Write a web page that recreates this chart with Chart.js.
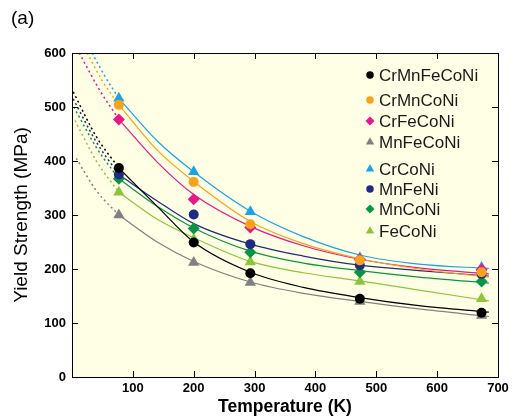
<!DOCTYPE html>
<html>
<head>
<meta charset="utf-8">
<script src="https://cdn.jsdelivr.net/npm/chart.js@4.4.1/dist/chart.umd.min.js"></script>
<style>
  html, body { margin: 0; padding: 0; background: #fff; }
  #wrap { width: 515px; height: 418px; position: relative; }
</style>
</head>
<body>
<div id="wrap"><canvas id="myChart" width="515" height="418"></canvas></div>
<script>
// alloys, in legend order
const alloys = ['CrMnFeCoNi', 'CrMnCoNi', 'CrFeCoNi', 'MnFeCoNi', 'CrCoNi', 'MnFeNi', 'MnCoNi', 'FeCoNi'];

// measured yield strength (MPa) at these temperatures (K)
const tempK = [77, 200, 293, 473, 673];
const ysCrMnFeCoNi = [387, 249, 192, 145, 119];
const ysCrMnCoNi   = [504, 361, 283, 216, 194];
const ysCrFeCoNi   = [477, 329, 277, 218, 199];
const ysMnFeCoNi   = [300, 212, 175, 140, 114];
const ysCrCoNi     = [516, 380, 306, 221, 203];
const ysMnFeNi     = [375, 301, 246, 207, 191];
const ysMnCoNi     = [367, 275, 231, 194, 177];
const ysFeCoNi     = [342, 255, 213, 177, 145];

// fitted curves (solid)
const fitT = [77, 140, 200, 293, 380, 473, 570, 685];
const fitCrMnFeCoNi = [387, 316, 250, 194, 166, 147, 132, 120];
const fitCrMnCoNi   = [504, 420, 362, 288, 247, 219, 200, 185];
const fitCrFeCoNi   = [477, 398, 338, 279, 243, 218, 202, 191];
const fitMnFeCoNi   = [300, 250, 214, 176, 155, 140, 126, 112];
const fitCrCoNi     = [516, 437, 380, 307, 260, 226, 209, 201];
const fitMnFeNi     = [375, 326, 284, 246, 224, 207, 197, 187];
const fitMnCoNi     = [367, 316, 276, 233, 211, 197, 185, 174];
const fitFeCoNi     = [342, 292, 258, 214, 193, 178, 161, 141];

// extrapolated part below 77 K (dotted)
const extTCrMnFeCoNi = [2, 40, 77],  extCrMnFeCoNi = [528, 445, 387];
const extTCrMnCoNi   = [25, 50, 77], extCrMnCoNi   = [600, 548, 504];
const extTCrFeCoNi   = [12, 45, 77], extCrFeCoNi   = [600, 532, 477];
const extTMnFeCoNi   = [7, 40, 77],  extMnFeCoNi   = [405, 345, 300];
const extTCrCoNi     = [33, 55, 77], extCrCoNi     = [600, 555, 516];
const extTMnFeNi     = [2, 40, 77],  extMnFeNi     = [515, 435, 375];
const extTMnCoNi     = [3, 40, 77],  extMnCoNi     = [500, 425, 367];
const extTFeCoNi     = [5, 40, 77],  extFeCoNi     = [475, 400, 342];

const yTicks = [0, 100, 200, 300, 400, 500, 600];
const xTicks = [0, 100, 200, 300, 400, 500, 600, 700];

const measured = [ysCrMnFeCoNi, ysCrMnCoNi, ysCrFeCoNi, ysMnFeCoNi, ysCrCoNi, ysMnFeNi, ysMnCoNi, ysFeCoNi];
const fits = [fitCrMnFeCoNi, fitCrMnCoNi, fitCrFeCoNi, fitMnFeCoNi, fitCrCoNi, fitMnFeNi, fitMnCoNi, fitFeCoNi];
const extT = [extTCrMnFeCoNi, extTCrMnCoNi, extTCrFeCoNi, extTMnFeCoNi, extTCrCoNi, extTMnFeNi, extTMnCoNi, extTFeCoNi];
const extV = [extCrMnFeCoNi, extCrMnCoNi, extCrFeCoNi, extMnFeCoNi, extCrCoNi, extMnFeNi, extMnCoNi, extFeCoNi];

const colors = ['#000000', '#f7a11c', '#e6198a', '#808080', '#1ba3e6', '#1f2a80', '#0b9447', '#8dc43c'];
const styles = ['circle', 'circle', 'rectRot', 'triangle', 'triangle', 'circle', 'rectRot', 'triangle'];
const radii  = [5, 5, 6, 6.5, 6.5, 5, 6, 6.5];

const FONT = 'Arial, "Liberation Sans", sans-serif';

const pairs = (xs, ys) => xs.map((x, i) => ({ x: x, y: ys[i] }));

const datasets = [];
alloys.forEach((name, i) => {
  datasets.push({
    label: name,
    data: pairs(tempK, measured[i]),
    showLine: false,
    pointStyle: styles[i],
    pointRadius: radii[i],
    backgroundColor: colors[i],
    borderColor: colors[i],
    borderWidth: 0,
    order: 0
  });
  datasets.push({
    label: name + ' fit',
    data: pairs(fitT, fits[i]),
    showLine: true,
    pointRadius: 0,
    borderColor: colors[i],
    borderWidth: 1.2,
    cubicInterpolationMode: 'monotone',
    order: 1
  });
  datasets.push({
    label: name + ' ext',
    data: pairs(extT[i], extV[i]),
    showLine: true,
    pointRadius: 0,
    borderColor: colors[i],
    borderWidth: 1.5,
    borderDash: [2, 3],
    cubicInterpolationMode: 'monotone',
    order: 1
  });
});

const framePlugin = {
  id: 'frame',
  beforeDraw(chart) {
    const { ctx, chartArea: a } = chart;
    ctx.save();
    ctx.fillStyle = '#ffffe6';
    ctx.fillRect(a.left, a.top, a.right - a.left, a.bottom - a.top);
    ctx.restore();
  },
  afterDraw(chart) {
    const { ctx, chartArea: a, scales } = chart;
    ctx.save();
    ctx.strokeStyle = '#000';
    ctx.lineWidth = 1;
    ctx.strokeRect(a.left + 0.5, a.top + 0.5, a.right - a.left, a.bottom - a.top);
    ctx.beginPath();
    xTicks.forEach(v => {
      const x = Math.round(scales.x.getPixelForValue(v)) + 0.5;
      ctx.moveTo(x, a.bottom); ctx.lineTo(x, a.bottom - 6);
      ctx.moveTo(x, a.top); ctx.lineTo(x, a.top + 6);
    });
    yTicks.forEach(v => {
      const y = Math.round(scales.y.getPixelForValue(v)) + 0.5;
      ctx.moveTo(a.left, y); ctx.lineTo(a.left + 6, y);
      ctx.moveTo(a.right, y); ctx.lineTo(a.right - 6, y);
    });
    ctx.stroke();

    // legend inside the plot
    const rowY = [75, 100, 121, 142, 169, 189, 209, 231];
    ctx.font = '17px ' + FONT;
    ctx.textBaseline = 'middle';
    ctx.textAlign = 'left';
    alloys.forEach((name, i) => {
      ctx.fillStyle = colors[i];
      ctx.strokeStyle = colors[i];
      Chart.helpers.drawPoint(ctx, { pointStyle: styles[i], radius: radii[i] * 0.75, borderWidth: 0, rotation: 0 }, 370, rowY[i]);
      ctx.fillStyle = '#1a1a1a';
      ctx.fillText(name, 379, rowY[i] + 1);
    });

    // panel label
    ctx.fillStyle = '#000';
    ctx.font = '19px ' + FONT;
    ctx.fillText('(a)', 11, 19);
    ctx.restore();
  }
};

new Chart(document.getElementById('myChart'), {
  type: 'scatter',
  data: { datasets: datasets },
  options: {
    responsive: false,
    animation: false,
    layout: { padding: { top: 53, right: 17, left: 0, bottom: 0 } },
    plugins: { legend: { display: false }, tooltip: { enabled: false } },
    scales: {
      x: {
        type: 'linear',
        min: 0, max: 700,
        grid: { display: false, drawTicks: false },
        border: { display: false },
        afterFit(scale) { scale.height = 41; },
        ticks: {
          stepSize: 100,
          padding: 4,
          color: '#000',
          font: { family: FONT, size: 13, weight: 'bold' },
          callback: v => (v === 0 ? '' : v)
        },
        title: {
          display: true,
          text: 'Temperature (K)',
          color: '#000',
          font: { family: FONT, size: 17.5, weight: 'bold' },
          padding: { top: 0, bottom: 0 }
        }
      },
      y: {
        min: 0, max: 600,
        grid: { display: false, drawTicks: false },
        border: { display: false },
        afterFit(scale) { scale.width = 72; },
        ticks: {
          stepSize: 100,
          padding: 6,
          color: '#000',
          font: { family: FONT, size: 13, weight: 'bold' }
        },
        title: {
          display: true,
          text: 'Yield Strength (MPa)',
          color: '#000',
          font: { family: FONT, size: 19 },
          padding: { top: 10, bottom: 0 }
        }
      }
    }
  },
  plugins: [framePlugin]
});
</script>
</body>
</html>
